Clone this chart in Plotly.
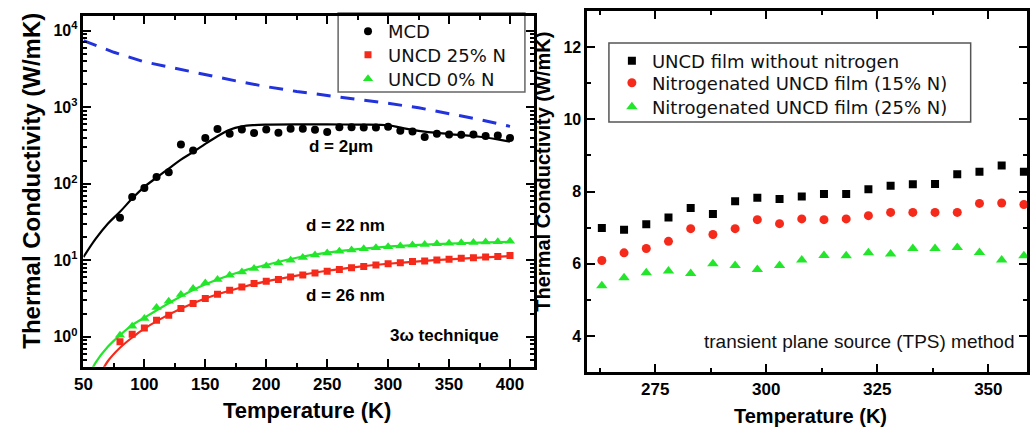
import plotly.graph_objects as go

# ---------------- left panel: 3-omega measurements (log scale) ----------------
T_pts = list(range(80, 401, 10))

k_mcd = [36, 67, 88, 122, 141, 326, 272, 394, 516, 450, 511, 458, 511, 463, 522,
         522, 507, 472, 545, 545, 540, 540, 555, 490, 480, 406, 450, 440, 435,
         440, 420, 425, 395]
k_uncd25 = [0.86, 1.08, 1.3, 1.65, 1.92, 2.35, 2.72, 3.16, 3.6, 4.07, 4.49, 4.96,
            5.32, 5.6, 6.06, 6.4, 6.8, 7.2, 7.6, 8.0, 8.3, 8.7, 9.0, 9.3, 9.6,
            9.8, 10.1, 10.3, 10.6, 10.8, 11.0, 11.2, 11.5]
k_uncd0 = [1.05, 1.38, 1.74, 2.42, 2.92, 3.57, 4.27, 5.06, 5.6, 6.37, 7.05, 7.78,
           8.43, 9.2, 10.0, 10.9, 11.7, 12.4, 13.1, 13.6, 14.1, 14.6, 15.0, 15.4,
           15.8, 16.1, 16.4, 16.7, 16.9, 17.1, 17.3, 17.4, 17.7]

# model curves
T_fit_mcd = [50, 60, 70, 80, 90, 100, 110, 120, 130, 140, 150, 160, 170, 180,
             190, 200, 225, 250, 275, 300, 310, 325, 350, 375, 390, 400]
k_fit_mcd = [11, 19, 30, 43, 64, 91, 120, 157, 206, 259, 331, 417, 507, 560,
             582, 590, 595, 595, 590, 580, 540, 490, 445, 410, 380, 355]
T_fit_25 = [60, 70, 80, 90, 100, 120, 140, 160, 180, 200, 225, 250, 275, 300,
            325, 350, 375, 400]
k_fit_25 = [0.25, 0.48, 0.72, 0.98, 1.28, 1.95, 2.75, 3.6, 4.45, 5.3, 6.3, 7.3,
            8.2, 9.0, 9.7, 10.3, 10.8, 11.3]
T_fit_0 = [50, 60, 70, 80, 90, 100, 120, 140, 160, 180, 200, 225, 250, 275, 300,
           325, 350, 375, 400]
k_fit_0 = [0.22, 0.46, 0.74, 1.05, 1.42, 1.78, 2.75, 4.1, 5.6, 7.2, 8.7, 10.8,
           12.6, 14.0, 15.1, 15.9, 16.5, 17.0, 17.4]
T_bulk = [50, 75, 100, 125, 150, 175, 200, 225, 250, 275, 300, 325, 350, 375, 400]
k_bulk = [7400, 5200, 3900, 3200, 2650, 2200, 1850, 1600, 1420, 1270, 1120, 980,
          830, 690, 560]

# ---------------- right panel: TPS measurements ----------------
T_tps = list(range(263, 359, 5))
k_no_n = [6.99, 6.94, 7.09, 7.28, 7.54, 7.38, 7.73, 7.83, 7.79, 7.86, 7.93, 7.93,
          8.06, 8.16, 8.20, 8.21, 8.48, 8.55, 8.72, 8.55]
k_15n = [6.09, 6.30, 6.42, 6.62, 6.97, 6.81, 6.97, 7.22, 7.11, 7.24, 7.22, 7.24,
         7.33, 7.42, 7.42, 7.42, 7.42, 7.67, 7.68, 7.64]
k_25n = [5.39, 5.61, 5.75, 5.80, 5.73, 6.00, 5.95, 5.84, 5.95, 6.10, 6.23, 6.22,
         6.30, 6.27, 6.42, 6.42, 6.45, 6.31, 6.10, 6.22]

RED = "#f52a1a"
GREEN = "#22e62a"
BLUE = "#2233dd"
FONT = "Liberation Sans, Arial, sans-serif"
LEGFONT = "DejaVu Sans, Liberation Sans, sans-serif"

fig = go.Figure()

# left panel traces
fig.add_trace(go.Scatter(x=T_bulk, y=k_bulk, mode="lines", showlegend=False,
                         line=dict(color=BLUE, width=3, dash="14px,10px"),
                         xaxis="x", yaxis="y"))
fig.add_trace(go.Scatter(x=T_fit_mcd, y=k_fit_mcd, mode="lines", showlegend=False,
                         line=dict(color="black", width=2.2, shape="spline"),
                         xaxis="x", yaxis="y"))
fig.add_trace(go.Scatter(x=T_fit_25, y=k_fit_25, mode="lines", showlegend=False,
                         line=dict(color=RED, width=2.2, shape="spline"),
                         xaxis="x", yaxis="y"))
fig.add_trace(go.Scatter(x=T_fit_0, y=k_fit_0, mode="lines", showlegend=False,
                         line=dict(color=GREEN, width=2.2, shape="spline"),
                         xaxis="x", yaxis="y"))
fig.add_trace(go.Scatter(x=T_pts, y=k_mcd, mode="markers", name="MCD",
                         marker=dict(symbol="circle", size=8, color="black"),
                         xaxis="x", yaxis="y", legend="legend"))
fig.add_trace(go.Scatter(x=T_pts, y=k_uncd25, mode="markers", name="UNCD 25% N",
                         marker=dict(symbol="square", size=7, color=RED),
                         xaxis="x", yaxis="y", legend="legend2"))
fig.add_trace(go.Scatter(x=T_pts, y=k_uncd0, mode="markers", name="UNCD 0% N",
                         marker=dict(symbol="triangle-up", size=9, color=GREEN),
                         xaxis="x", yaxis="y", legend="legend3"))

# right panel traces
fig.add_trace(go.Scatter(x=T_tps, y=k_no_n, mode="markers",
                         name="UNCD film without nitrogen",
                         marker=dict(symbol="square", size=8, color="black"),
                         xaxis="x2", yaxis="y2", legend="legend4"))
fig.add_trace(go.Scatter(x=T_tps, y=k_15n, mode="markers",
                         name="Nitrogenated UNCD film (15% N)",
                         marker=dict(symbol="circle", size=9, color=RED),
                         xaxis="x2", yaxis="y2", legend="legend5"))
fig.add_trace(go.Scatter(x=T_tps, y=k_25n, mode="markers",
                         name="Nitrogenated UNCD film (25% N)",
                         marker=dict(symbol="triangle-up", size=10, color=GREEN),
                         xaxis="x2", yaxis="y2", legend="legend6"))

W, H = 1030, 428


def px(x):
    return x / W


def py(y):
    return 1 - y / H


frame = dict(showline=True, linewidth=2.5, linecolor="black", mirror="ticks",
             ticks="inside", tickwidth=2, ticklen=8, tickcolor="black",
             showgrid=False, zeroline=False,
             tickfont=dict(family=FONT, size=17, color="black", weight="bold"))

minor_log = [m * 10 ** e for e in range(-1, 4) for m in range(2, 10)]


def entry(x, y, size):
    # one legend row, vertically centred on pixel row y
    return dict(x=px(x), y=py(y), xanchor="left", yanchor="middle",
                bgcolor="rgba(0,0,0,0)", borderwidth=0, itemwidth=30,
                font=dict(family=LEGFONT, size=size, color="#111"))


fig.update_layout(
    width=W, height=H, margin=dict(l=0, r=0, t=0, b=0),
    paper_bgcolor="white", plot_bgcolor="white",
    xaxis=dict(frame, domain=[px(75.3), px(530.7)], range=[50, 419.3],
               tick0=50, dtick=50, anchor="y",
               minor=dict(dtick=25, ticks="inside", ticklen=4, tickwidth=1.5,
                          tickcolor="black")),
    yaxis=dict(frame, domain=[py(366.7), py(16)], type="log",
               range=[-0.39, 4.19], anchor="x",
               tickvals=[1, 10, 100, 1000, 10000],
               ticktext=["10<sup>0</sup>", "10<sup>1</sup>", "10<sup>2</sup>",
                         "10<sup>3</sup>", "10<sup>4</sup>"],
               tickfont=dict(family=FONT, size=16, color="black", weight="bold"),
               minor=dict(tickmode="array", tickvals=minor_log, ticks="inside",
                          ticklen=4, tickwidth=1.5, tickcolor="black")),
    xaxis2=dict(frame, domain=[px(585), 1.0], range=[259.7, 358.7],
                tick0=0, dtick=25, anchor="y2",
                minor=dict(dtick=12.5, ticks="inside", ticklen=4, tickwidth=1.5,
                           tickcolor="black")),
    yaxis2=dict(frame, domain=[py(372), py(11)], range=[3, 13],
                tick0=0, dtick=2, anchor="x2",
                tickfont=dict(family=FONT, size=16, color="black", weight="bold"),
                minor=dict(dtick=1, ticks="inside", ticklen=4, tickwidth=1.5,
                           tickcolor="black")),
    legend=entry(343, 31.5, 18),
    legend2=entry(343, 55, 18),
    legend3=entry(343, 79, 18),
    legend4=entry(610, 61, 18),
    legend5=entry(610, 83, 18),
    legend6=entry(610, 107, 18),
    shapes=[
        dict(type="rect", xref="paper", yref="paper",
             x0=px(333), x1=px(522), y0=py(92), y1=py(13),
             line=dict(color="#666", width=1.5), fillcolor="white", layer="below"),
        dict(type="rect", xref="paper", yref="paper",
             x0=px(607), x1=px(973), y0=py(122), y1=py(43),
             line=dict(color="#555", width=1.5), fillcolor="white", layer="below"),
    ],
)

bold = dict(family=FONT, color="black", weight="bold")
ann = [
    # axis titles
    dict(text="Thermal Conductivity (W/mK)", x=px(22), y=py(181), xref="paper",
         yref="paper", textangle=-90, font=dict(bold, size=24)),
    dict(text="Temperature (K)", x=px(302), y=py(410), xref="paper", yref="paper",
         font=dict(bold, size=22)),
    dict(text="Thermal Conductivity (W/mK)", x=px(540), y=py(172), xref="paper",
         yref="paper", textangle=-90, font=dict(bold, size=20)),
    dict(text="Temperature (K)", x=px(811), y=py(416), xref="paper", yref="paper",
         font=dict(bold, size=20)),
    # curve labels (log axis: y given as log10)
    dict(text="d = 2\u00b5m", x=261, y=2.49, xref="x", yref="y",
         font=dict(bold, size=17)),
    dict(text="d = 22 nm", x=264.7, y=1.456, xref="x", yref="y",
         font=dict(bold, size=17)),
    dict(text="d = 26 nm", x=264.7, y=0.544, xref="x", yref="y",
         font=dict(bold, size=17)),
    dict(text="3\u03c9 technique", x=346.6, y=0.022, xref="x", yref="y",
         font=dict(bold, size=17)),
    dict(text="transient plane source (TPS) method", x=321, y=3.85, xref="x2",
         yref="y2", font=dict(family=FONT, color="#111", size=19)),
]
for a in ann:
    a["showarrow"] = False
    a["xanchor"] = "center"
    a["yanchor"] = "middle"
fig.update_layout(annotations=ann)

fig.write_html("out.html")
